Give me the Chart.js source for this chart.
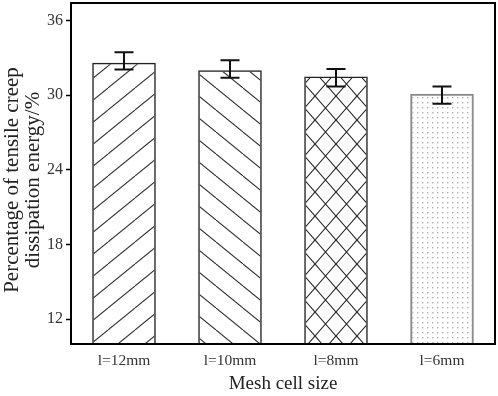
<!DOCTYPE html>
<html>
<head>
<meta charset="utf-8">
<script src="https://cdn.jsdelivr.net/npm/chart.js@4/dist/chart.umd.min.js"></script>
<style>
  html, body { margin: 0; padding: 0; background: #fff; }
  #wrap { width: 498px; height: 396px; }
</style>
</head>
<body>
<div id="wrap"><canvas id="chart"></canvas></div>
<script>
const categories = ['l=12mm', 'l=10mm', 'l=8mm', 'l=6mm']
const values = [32.6, 32.0, 31.5, 30.1]
const errHigh = [33.45, 32.8, 32.1, 30.7]
const errLow = [32.05, 31.4, 30.7, 29.3]
const yTicks = [12, 18, 24, 30, 36]
const yTitle = ['Percentage of tensile creep', 'dissipation energy/%']

const FONT = '"Liberation Serif", "Times New Roman", serif'

// hatch fills, one per bar
const makePattern = (kind) => {
  const c = document.createElement('canvas')
  const g = c.getContext('2d')
  if (kind === 'dots') {
    c.width = 5; c.height = 5
    g.fillStyle = '#b0b0b0'
    g.fillRect(2, 2, 1.4, 1.4)
    return g.createPattern(c, 'repeat')
  }
  const w = kind === 'cross' ? 21 : 27
  const h = kind === 'cross' ? 24 : 22
  c.width = w; c.height = h
  g.strokeStyle = kind === 'cross' ? '#222' : '#333'
  g.lineWidth = 1.1
  const line = (x0, y0, x1, y1) => { g.beginPath(); g.moveTo(x0, y0); g.lineTo(x1, y1); g.stroke() }
  for (const dx of [-w, 0, w]) {
    if (kind === 'fwd' || kind === 'cross') line(dx, h, dx + w, 0)
    if (kind === 'back' || kind === 'cross') line(dx, 0, dx + w, h)
  }
  return g.createPattern(c, 'repeat')
}

const fills = [makePattern('fwd'), makePattern('back'), makePattern('cross'), makePattern('dots')]

const frame = {
  id: 'frame',
  afterDatasetsDraw (chart) {
    const { ctx, chartArea: a } = chart
    ctx.save()
    ctx.strokeStyle = '#000'
    ctx.lineWidth = 2
    ctx.strokeRect(a.left, a.top, a.right - a.left, a.bottom - a.top)
    ctx.restore()
  }
}

// rotated two-line y title, placed a bit below the axis middle like the original
const sideTitle = {
  id: 'sideTitle',
  afterDraw (chart) {
    const { ctx } = chart
    ctx.save()
    ctx.fillStyle = '#222'
    ctx.font = `21px ${FONT}`
    ctx.textAlign = 'center'
    ctx.textBaseline = 'middle'
    ctx.translate(0, 180)
    ctx.rotate(-Math.PI / 2)
    ctx.fillText(yTitle[0], 0, 12)
    ctx.fillText(yTitle[1], 0, 33)
    ctx.restore()
  }
}

const errorBars = {
  id: 'errorBars',
  afterDatasetsDraw (chart) {
    const { ctx } = chart
    const y = chart.scales.y
    const meta = chart.getDatasetMeta(0)
    ctx.save()
    ctx.strokeStyle = '#111'
    ctx.lineWidth = 2
    meta.data.forEach((bar, i) => {
      const top = y.getPixelForValue(errHigh[i])
      const bot = y.getPixelForValue(errLow[i])
      ctx.beginPath()
      ctx.moveTo(bar.x, top); ctx.lineTo(bar.x, bot)
      ctx.moveTo(bar.x - 9.5, top); ctx.lineTo(bar.x + 9.5, top)
      ctx.moveTo(bar.x - 9.5, bot); ctx.lineTo(bar.x + 9.5, bot)
      ctx.stroke()
    })
    ctx.restore()
  }
}

new Chart(document.getElementById('chart'), {
  type: 'bar',
  data: {
    labels: categories,
    datasets: [{
      data: values,
      backgroundColor: fills,
      borderColor: ['#222', '#222', '#222', '#8a8a8a'],
      borderWidth: [1.5, 1.5, 1.5, 2],
      barPercentage: 0.6,
      categoryPercentage: 1
    }]
  },
  options: {
    responsive: true,
    maintainAspectRatio: false,
    animation: false,
    layout: { padding: { top: 3, right: 3, left: 0, bottom: 0 } },
    plugins: { legend: { display: false }, tooltip: { enabled: false } },
    scales: {
      x: {
        grid: { display: false },
        border: { display: false },
        ticks: { color: '#333', font: { family: FONT, size: 15.5 }, padding: 0 },
        title: { display: true, text: 'Mesh cell size', color: '#222', font: { family: FONT, size: 19, lineHeight: 1 }, padding: { top: 0, bottom: 2 } },
        afterFit: (s) => { s.height = 52; s.paddingLeft = 0; s.paddingRight = 0 }
      },
      y: {
        min: 10,
        max: 37.4,
        afterBuildTicks: (s) => { s.ticks = yTicks.map(v => ({ value: v })) },
        grid: { drawOnChartArea: false, tickLength: 5, tickColor: '#000', tickWidth: 1.5 },
        border: { display: false },
        ticks: { color: '#333', font: { family: FONT, size: 16 }, padding: 3 },
        afterFit: (s) => { s.width = 71; s.paddingTop = 0; s.paddingBottom = 0 }
      }
    }
  },
  plugins: [frame, errorBars, sideTitle]
})
</script>
</body>
</html>
